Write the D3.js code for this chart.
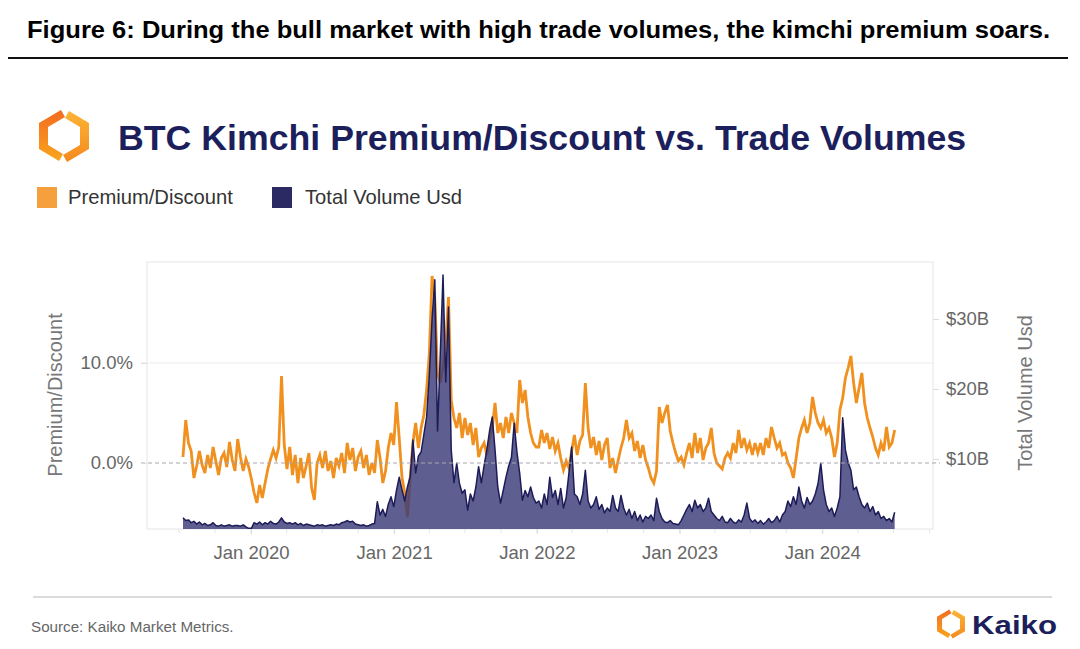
<!DOCTYPE html>
<html>
<head>
<meta charset="utf-8">
<script src="https://cdn.jsdelivr.net/npm/d3@7"></script>
<style>
  body { margin: 0; background: #fff; }
  text { font-family: "Liberation Sans", Arial, sans-serif; }
</style>
</head>
<body>
<div id="chart"></div>
<script>
// weekly points starting here
const startDate = "2019-07-11";

// Premium/Discount in %
const premium = [
  0.6, 4.3, 2.0, 1.2, -1.5, -0.3, 1.2, -0.2, -1.0, 0.8,
  -0.5, 1.6, 0.2, -1.2, 0.5, 1.0, -0.4, 2.1, 0.3, -0.8,
  2.4, 0.6, -0.8, 0.4, -0.4, -1.6, -3.0, -4.0, -2.2, -3.5,
  -2.0, -0.6, 0.4, 1.3, 0.5, 1.6, 8.7, 1.8, -0.6, 1.6,
  -1.2, 0.8, -2.0, 0.5, -1.5, -0.3, 1.0, -2.5, -3.7, 0.0,
  0.8, -0.5, 1.2, -0.8, 0.2, -1.5, 0.5, -0.3, 1.0, -1.0,
  2.0, 0.3, 1.5, -0.8, 0.6, 1.2, -0.5, 0.8, -1.2, 0.0,
  -1.0, 2.3, 0.5, -2.0, -0.8, 1.5, 3.0, 1.8, 6.1, 2.5,
  -1.4, -3.0, -5.4, -1.5, 2.0, 4.0, 1.5, 3.5, 4.8, 7.3,
  11.0, 18.7, 16.5, 9.0, 8.0, 9.5, 12.0, 16.6, 6.3, 4.5,
  3.5, 5.0, 2.5, 4.5, 2.8, 4.0, 1.8, 3.5, 0.6, 1.5,
  2.0, 0.8, 2.4, 3.5, 6.0, 3.0, 4.0, 2.5, 4.6, 3.0,
  5.0, 4.0, 3.0, 8.3, 6.0, 7.3, 4.6, 3.0, 2.0, 1.6,
  1.6, 3.3, 2.0, 3.0, 1.4, 2.6, 1.2, 2.0, 0.5, -0.7,
  0.2, -0.5, 1.2, 2.8, 0.8, 2.2, 2.8, 8.0, 3.5, 1.5,
  2.6, 0.8, 2.2, 0.3, 1.8, 2.5, -0.5, 0.5, -1.0, 0.3,
  1.5, 2.5, 4.3, 2.5, 3.0, 1.2, 2.2, 0.5, 1.8, 0.3,
  -0.5, -1.5, -2.0, -0.8, 5.6, 4.0, 5.0, 5.8, 3.2, 2.0,
  1.0, 0.2, 0.6, -0.2, 1.0, 2.0, 0.5, 3.0, 1.0, 2.5,
  0.3, 1.5, 2.0, 3.5, 1.0, 0.0, -0.3, -0.6, 0.5, 1.0,
  0.5, 2.0, 1.0, 3.3, 1.5, 2.5, 1.3, 2.0, 0.8, 2.0,
  1.0, 2.0, 0.8, 2.5, 1.5, 3.6, 2.5, 1.5, 2.0, 0.8,
  1.0, 0.0, -0.5, -1.5, 0.5, 2.5, 3.5, 4.3, 3.0, 4.0,
  6.6, 5.0, 4.0, 3.5, 4.3, 3.0, 3.5, 2.5, 0.6, 2.0,
  5.3, 6.5, 8.5, 9.5, 10.7, 8.0, 6.0, 7.5, 9.0, 6.0,
  4.5, 3.5, 2.6, 1.5, 0.8, 2.0, 1.2, 3.6, 1.6, 2.0, 3.3
];

// Total Volume Usd in $B
const volume = [
  1.6, 1.2, 1.3, 0.9, 1.1, 0.7, 1.0, 0.6, 0.8, 0.5,
  0.6, 0.9, 0.5, 0.4, 0.6, 0.4, 0.5, 0.6, 0.4, 0.5,
  0.5, 0.4, 0.6, 0.3, 0.1, 0.1, 0.9, 0.7, 1.0, 0.6,
  0.9, 0.7, 1.1, 0.8, 0.7, 1.0, 1.6, 1.0, 0.8, 0.9,
  0.7, 0.9, 0.6, 0.8, 0.5, 0.7, 0.6, 0.5, 0.4, 0.6,
  0.5, 0.6, 0.4, 0.5, 0.6, 0.5, 0.7, 0.6, 0.9, 1.0,
  1.2, 1.0, 1.1, 0.7, 0.6, 0.5, 0.6, 0.4, 0.5, 0.7,
  0.8, 3.9, 2.0, 2.8, 1.8, 3.5, 4.6, 3.2, 5.5, 7.4,
  5.6, 4.0, 6.0, 7.5, 12.7, 8.0, 10.4, 11.0, 13.5, 16.0,
  22.0, 30.0, 35.6, 14.0, 25.0, 36.3, 21.0, 31.7, 11.3, 6.6,
  9.4, 6.5, 5.1, 5.6, 2.7, 5.0, 4.0, 6.0, 8.9, 6.6,
  9.0, 11.3, 14.0, 16.0, 11.3, 6.0, 3.7, 5.5, 7.4, 9.0,
  10.2, 15.1, 11.0, 8.0, 4.1, 5.5, 4.6, 6.0, 4.5, 3.7,
  4.0, 3.0, 5.0, 3.5, 7.4, 4.5, 5.5, 3.5, 5.8, 3.0,
  4.5, 8.0, 11.7, 5.0, 4.6, 3.5, 5.0, 8.4, 4.0, 3.0,
  3.5, 4.6, 2.8, 3.5, 2.3, 3.0, 2.5, 4.8, 3.0, 2.5,
  4.8, 3.0, 2.0, 2.8, 1.5, 2.5, 1.2, 2.0, 1.0, 1.8,
  1.5, 2.0, 1.2, 4.4, 2.5, 1.5, 1.0, 0.9, 1.2, 0.8,
  0.7, 0.6, 1.2, 2.0, 2.8, 3.5, 2.5, 4.1, 3.0, 3.5,
  2.5, 3.0, 4.4, 2.5, 2.0, 1.5, 1.2, 1.8, 1.0, 0.9,
  1.5, 1.0, 0.8, 1.3, 1.0, 2.0, 3.7, 1.5, 1.0, 1.3,
  0.8, 1.2, 0.7, 1.0, 1.5, 0.9, 1.2, 1.8, 1.0, 2.0,
  2.5, 4.0, 3.2, 4.6, 3.5, 6.0, 4.0, 3.0, 4.5, 3.5,
  4.0, 5.0, 6.5, 9.4, 5.6, 3.5, 2.5, 3.0, 1.8, 3.0,
  4.6, 15.9, 11.3, 9.5, 8.4, 5.6, 6.0, 4.6, 3.5, 3.0,
  3.7, 2.5, 3.2, 2.0, 2.5, 1.5, 1.8, 1.2, 1.5, 1.0, 2.4
];

const leftTicks = [0, 10];
const rightTicks = [10, 20, 30];
const xTickYears = [2020, 2021, 2022, 2023, 2024];
const seriesNames = ["Premium/Discount", "Total Volume Usd"];

const orange = "#f0901f";
const navy = "#2b2a63";

const width = 1080, height = 649;
const plot = {left: 147, right: 933, top: 262, bottom: 529};

const svg = d3.select("#chart").append("svg")
    .attr("width", width)
    .attr("height", height);

svg.append("rect").attr("width", width).attr("height", height).attr("fill", "#fff");

// caption on top
svg.append("text")
    .attr("x", 27).attr("y", 38)
    .attr("font-size", 23).attr("font-weight", "bold")
    .attr("fill", "#000")
    .attr("textLength", 1023).attr("lengthAdjust", "spacingAndGlyphs")
    .text("Figure 6: During the bull market with high trade volumes, the kimchi premium soars.");
svg.append("line")
    .attr("x1", 8).attr("x2", 1068).attr("y1", 58).attr("y2", 58)
    .attr("stroke", "#111").attr("stroke-width", 2.2);

// logo
const defs = svg.append("defs");
const gl = defs.append("linearGradient").attr("id", "gLeft")
    .attr("x1", 0).attr("y1", 0).attr("x2", 0).attr("y2", 1);
gl.append("stop").attr("offset", 0).attr("stop-color", "#f36b21");
gl.append("stop").attr("offset", 1).attr("stop-color", "#f8a51d");
const gr = defs.append("linearGradient").attr("id", "gRight")
    .attr("x1", 0).attr("y1", 0).attr("x2", 0).attr("y2", 1);
gr.append("stop").attr("offset", 0).attr("stop-color", "#fbb436");
gr.append("stop").attr("offset", 1).attr("stop-color", "#f58a1f");

const drawLogo = (cx, cy, s) => {
    const g = svg.append("g").attr("transform", `translate(${cx},${cy}) scale(${s})`);
    g.append("path")
        .attr("d", "M-3,-26 L-25,-13 L-25,13 L-5,25 L-1,18 L-16,9 L-16,-9 L1,-19 Z")
        .attr("fill", "url(#gLeft)");
    g.append("path")
        .attr("d", "M3,26 L25,13 L25,-13 L5,-25 L1,-18 L16,-9 L16,9 L-1,19 Z")
        .attr("fill", "url(#gRight)");
};
drawLogo(64, 136, 1);

svg.append("text")
    .attr("x", 118).attr("y", 150)
    .attr("font-size", 35.7).attr("font-weight", "bold")
    .attr("fill", "#1c1f5c")
    .text("BTC Kimchi Premium/Discount vs. Trade Volumes");

// legend
const legend = svg.append("g");
[[37, "#f5a03c", seriesNames[0], 68], [272, navy, seriesNames[1], 305]].forEach(([x, c, t, tx]) => {
    legend.append("rect").attr("x", x).attr("y", 187).attr("width", 20).attr("height", 21).attr("fill", c);
    legend.append("text").attr("x", tx).attr("y", 204)
        .attr("font-size", 20.2).attr("fill", "#333").text(t);
});

// scales
const parseDate = d3.timeParse("%Y-%m-%d");
const t0 = parseDate(startDate);
const data = premium.map((p, i) => ({date: d3.timeDay.offset(t0, 7 * i), premium: p, volume: volume[i]}));

const x = d3.scaleTime()
    .domain([new Date(2019, 3, 10), new Date(2024, 9, 10)])
    .range([plot.left, plot.right]);
const yL = d3.scaleLinear().domain([-6.6, 20.1]).range([plot.bottom, plot.top]);
const yR = d3.scaleLinear().domain([0, 38.14]).range([plot.bottom, plot.top]);

// frame + grid
svg.append("rect")
    .attr("x", plot.left).attr("y", plot.top)
    .attr("width", plot.right - plot.left).attr("height", plot.bottom - plot.top)
    .attr("fill", "none").attr("stroke", "#e9e9e9").attr("stroke-width", 1.2);

svg.append("line")
    .attr("x1", plot.left - 6).attr("x2", plot.right)
    .attr("y1", yL(10)).attr("y2", yL(10))
    .attr("stroke", "#ececec").attr("stroke-width", 1.2);

// quarter ticks under the plot
const quarters = d3.timeMonth.every(3).range(x.domain()[0], x.domain()[1]);
svg.append("g").selectAll("line").data(quarters).join("line")
    .attr("x1", d => x(d)).attr("x2", d => x(d))
    .attr("y1", plot.bottom).attr("y2", plot.bottom + 4)
    .attr("stroke", "#e6e6e6");

// series
svg.append("path")
    .datum(data)
    .attr("fill", "none")
    .attr("stroke", orange)
    .attr("stroke-width", 2.8)
    .attr("stroke-linejoin", "miter")
    .attr("d", d3.line().x(d => x(d.date)).y(d => yL(d.premium)));

svg.append("path")
    .datum(data)
    .attr("fill", "#3b3a78")
    .attr("fill-opacity", 0.82)
    .attr("d", d3.area().x(d => x(d.date)).y0(yR(0)).y1(d => yR(d.volume)));

svg.append("path")
    .datum(data)
    .attr("fill", "none")
    .attr("stroke", "#1d1c58")
    .attr("stroke-width", 1.5)
    .attr("stroke-linejoin", "round")
    .attr("d", d3.line().x(d => x(d.date)).y(d => yR(d.volume)));

// zero line
svg.append("line")
    .attr("x1", plot.left - 6).attr("x2", plot.right + 7)
    .attr("y1", yL(0)).attr("y2", yL(0))
    .attr("stroke", "#a8a8b0").attr("stroke-width", 1.1)
    .attr("stroke-dasharray", "4,3");

// axes
const styleAxis = g => {
    g.select(".domain").remove();
    g.selectAll(".tick line").attr("stroke", "#dcdcdc");
    g.selectAll(".tick text").attr("fill", "#666").attr("font-size", 18.5)
        .attr("font-family", '"Liberation Sans", Arial, sans-serif');
};

svg.append("g")
    .attr("transform", `translate(${plot.left},0)`)
    .call(d3.axisLeft(yL).tickValues(leftTicks).tickSize(6).tickPadding(8)
        .tickFormat(d => d.toFixed(1) + "%"))
    .call(styleAxis);

svg.append("g")
    .attr("transform", `translate(${plot.right},0)`)
    .call(d3.axisRight(yR).tickValues(rightTicks).tickSize(6).tickPadding(7)
        .tickFormat(d => "$" + d + "B"))
    .call(styleAxis);

svg.append("g")
    .attr("transform", `translate(0,${plot.bottom})`)
    .call(d3.axisBottom(x).tickValues(xTickYears.map(y => new Date(y, 0, 1))).tickSize(5).tickPadding(12)
        .tickFormat(d3.timeFormat("Jan %Y")))
    .call(styleAxis);

// axis titles
svg.append("text")
    .attr("transform", "translate(62,395) rotate(-90)")
    .attr("text-anchor", "middle")
    .attr("font-size", 20).attr("fill", "#777")
    .text(seriesNames[0]);
svg.append("text")
    .attr("transform", "translate(1032,393) rotate(-90)")
    .attr("text-anchor", "middle")
    .attr("font-size", 20).attr("fill", "#777")
    .text(seriesNames[1]);

// footer
svg.append("line")
    .attr("x1", 33).attr("x2", 1052).attr("y1", 597).attr("y2", 597)
    .attr("stroke", "#cfcfcf").attr("stroke-width", 1.5);
svg.append("text")
    .attr("x", 31).attr("y", 632)
    .attr("font-size", 15.2).attr("fill", "#666")
    .text("Source: Kaiko Market Metrics.");

drawLogo(951, 624, 0.56);
svg.append("text")
    .attr("x", 972).attr("y", 634)
    .attr("font-size", 26).attr("font-weight", "bold")
    .attr("fill", "#1c1f5c")
    .attr("textLength", 85).attr("lengthAdjust", "spacingAndGlyphs")
    .text("Kaiko");
</script>
</body>
</html>
